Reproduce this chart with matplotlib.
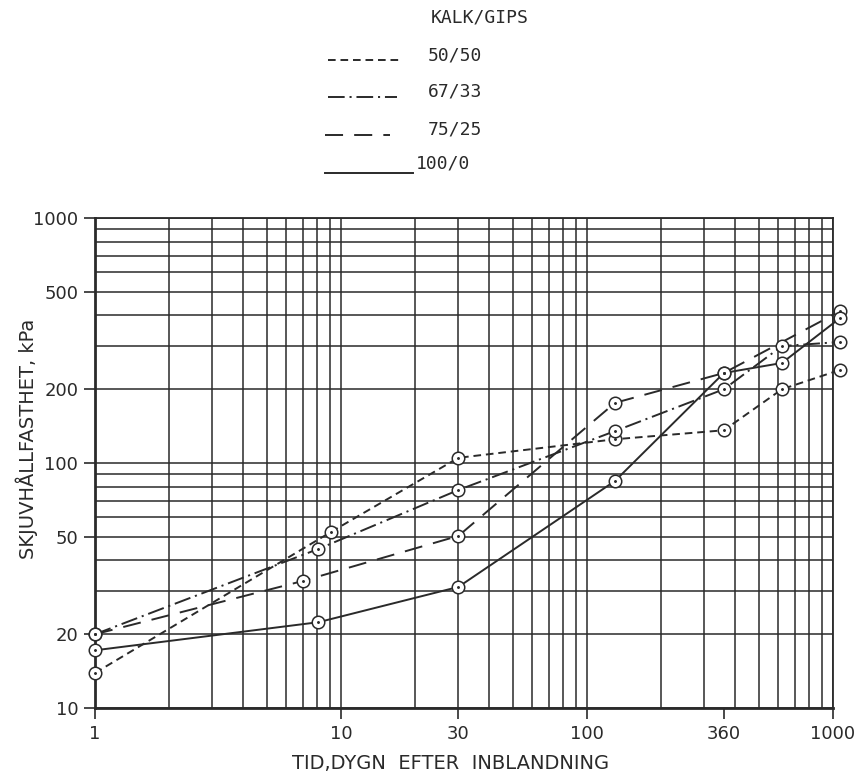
import matplotlib
matplotlib.use("Agg")
import matplotlib.pyplot as plt
import numpy as np
from matplotlib.ticker import FixedLocator, FixedFormatter, LogLocator, NullFormatter

plt.rcParams["lines.scale_dashes"] = False
plt.rcParams["font.family"] = ["DejaVu Sans"]

INK = "#2a2a2a"

# KALK/GIPS mixes, shear strength (kPa) vs days after mixing
RATIOS = ["50/50", "67/33", "75/25", "100/0"]
DAYS_50 = [1, 9.1, 30, 130, 360, 620, 1070]
STRENGTH_50 = [13.9, 52.3, 105, 125, 136, 200, 240]
DAYS_67 = [1, 8.1, 30, 130, 360, 620, 1070]
STRENGTH_67 = [20, 44.6, 77.6, 135, 200, 300, 312]
DAYS_75 = [1, 7.0, 30, 130, 360, 1070]
STRENGTH_75 = [20, 33, 50.4, 176, 233, 417]
DAYS_100 = [1, 8.1, 30, 130, 360, 620, 1070]
STRENGTH_100 = [17.2, 22.4, 31.2, 84.5, 233, 256, 391]

X_TICKS = [1, 10, 30, 100, 360, 1000]
Y_TICKS = [10, 20, 50, 100, 200, 500, 1000]

STYLES = [(0, (5.5, 3.5)), (0, (12, 3.5, 1.5, 3.5)), (0, (13, 8)), "-"]


def main():
    fig = plt.figure(figsize=(8.61, 7.8), dpi=100)
    ax = fig.add_axes([95 / 861, 72 / 780, 738 / 861, 490 / 780])
    ax.set_xscale("log")
    ax.set_yscale("log")
    ax.set_xlim(1, 1000)
    ax.set_ylim(10, 1000)

    # log-paper grid drawn from the minor locator (decades included)
    for axis in (ax.xaxis, ax.yaxis):
        axis.set_minor_locator(LogLocator(base=10, subs=np.arange(1, 10)))
        axis.set_minor_formatter(NullFormatter())
        axis.remove_overlapping_locs = False
    ax.xaxis.set_major_locator(FixedLocator(X_TICKS))
    ax.xaxis.set_major_formatter(FixedFormatter([str(t) for t in X_TICKS]))
    ax.yaxis.set_major_locator(FixedLocator(Y_TICKS))
    ax.yaxis.set_major_formatter(FixedFormatter([str(t) for t in Y_TICKS]))
    ax.grid(False, which="major")
    ax.grid(True, which="minor", color=INK, linewidth=1.1)
    ax.tick_params(which="minor", length=0)
    ax.tick_params(which="major", direction="out", length=8, width=1.2,
                   color=INK, labelcolor=INK, labelsize=13, pad=4)
    for side, spine in ax.spines.items():
        spine.set_color(INK)
        spine.set_linewidth(2.0 if side in ("left", "bottom") else 1.3)

    series = [
        (DAYS_50, STRENGTH_50),
        (DAYS_67, STRENGTH_67),
        (DAYS_75, STRENGTH_75),
        (DAYS_100, STRENGTH_100),
    ]
    for (days, vals), style in zip(series, STYLES):
        ax.plot(days, vals, linestyle=style, color=INK, linewidth=1.4,
                clip_on=False, zorder=4)
        ax.plot(days, vals, linestyle="none", marker="o", markersize=9,
                markerfacecolor="white", markeredgecolor=INK,
                markeredgewidth=1.1, clip_on=False, zorder=5)
        ax.plot(days, vals, linestyle="none", marker="o", markersize=1.1,
                color=INK, clip_on=False, zorder=6)

    ax.set_xlabel("TID,DYGN  EFTER  INBLANDNING", fontsize=14, color=INK)
    ax.xaxis.set_label_coords(0.482, -0.093)
    ax.set_ylabel("SKJUVHÅLLFASTHET, kPa", fontsize=14, color=INK)
    ax.yaxis.set_label_coords(-0.077, 0.55)

    # legend block in pixel coordinates of the figure
    lg = fig.add_axes([0, 0, 1, 1], facecolor="none")
    lg.set_xlim(0, 861)
    lg.set_ylim(780, 0)
    lg.axis("off")
    mono = dict(family="DejaVu Sans Mono", fontsize=13, color=INK, va="center")
    lg.text(431, 17, "KALK/GIPS", **mono)
    rows = [(56, 60, 328, 400, 428), (92, 97, 328, 397, 428),
            (129, 135, 325, 390, 428), (164, 173, 325, 413, 416)]
    for label, style, (ty, ly, x0, x1, tx) in zip(RATIOS, STYLES, rows):
        lg.plot([x0, x1], [ly, ly], linestyle=style, color=INK, linewidth=1.4)
        lg.text(tx, ty, label, **mono)

    fig.savefig("out.png", dpi=100)


if __name__ == "__main__":
    main()
